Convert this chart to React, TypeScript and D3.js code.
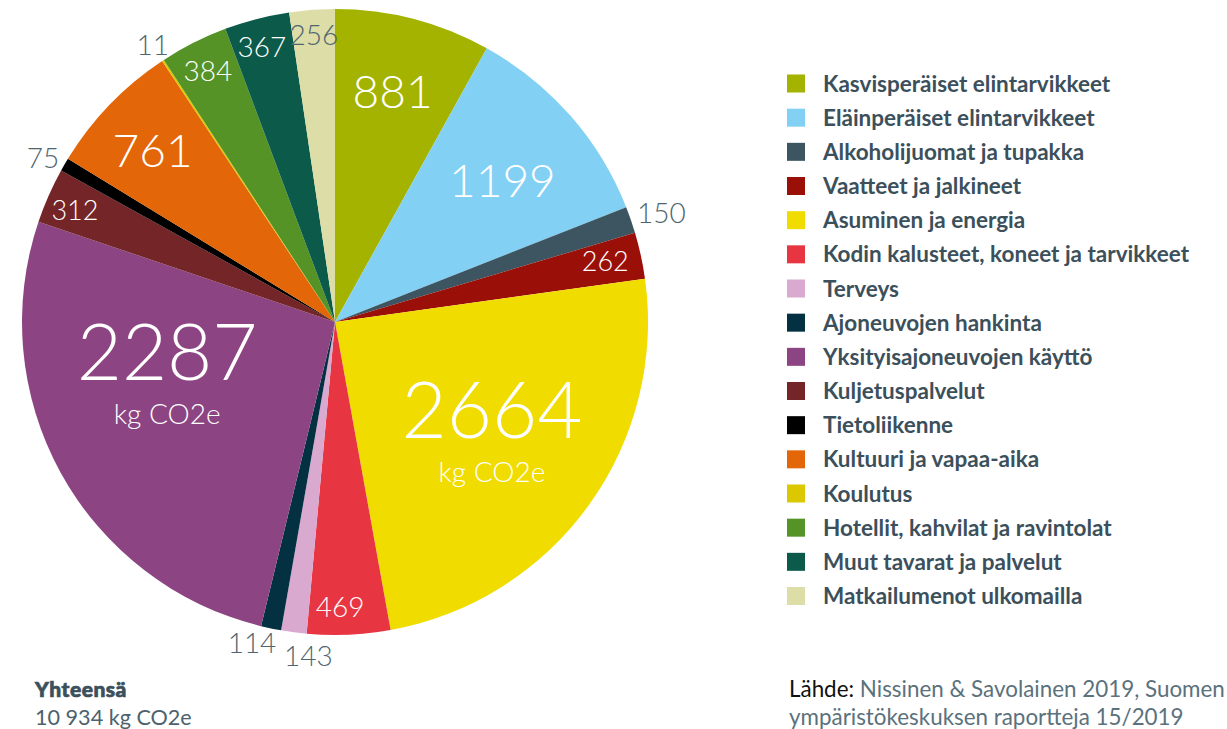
import React from 'react';
import * as d3 from 'd3';

// Data (arc sizes follow the drawn slices; the purple
// slice is drawn with ~2886 although it is printed as "2287").
const categories = [
  'Kasvisperäiset elintarvikkeet',
  'Eläinperäiset elintarvikkeet',
  'Alkoholijuomat ja tupakka',
  'Vaatteet ja jalkineet',
  'Asuminen ja energia',
  'Kodin kalusteet, koneet ja tarvikkeet',
  'Terveys',
  'Ajoneuvojen hankinta',
  'Yksityisajoneuvojen käyttö',
  'Kuljetuspalvelut',
  'Tietoliikenne',
  'Kultuuri ja vapaa-aika',
  'Koulutus',
  'Hotellit, kahvilat ja ravintolat',
  'Muut tavarat ja palvelut',
  'Matkailumenot ulkomailla',
];
const values = [881, 1199, 150, 262, 2664, 469, 143, 114, 2886, 312, 75, 761, 11, 384, 367, 256];
const printedLabels = ['881', '1199', '150', '262', '2664', '469', '143', '114', '2287', '312', '75', '761', '11', '384', '367', '256'];
const colors = [
  '#a3b300', '#82d0f4', '#3d5561', '#9b0f09', '#f1dc00', '#e73541', '#d9a9d0', '#033142',
  '#8c4582', '#732527', '#000000', '#e36608', '#dcc800', '#569326', '#0c5b4a', '#dddda8',
];
const unitText = 'kg CO2e';
const totalTitle = 'Yhteensä';
const totalText = '10 934 kg CO2e';

// label styling: radius ratio, angle shift (deg), font size, colour kind, show unit
const labelStyle = [
  { r: 0.76, da: -0.5, fs: 46, c: 'w' },
  { r: 0.70, da: 1.1, fs: 46, c: 'w' },
  { r: 1.10, da: 0.5, fs: 28, c: 'g' },
  { r: 0.885, da: -0.4, fs: 27, c: 'w' },
  { r: 0.575, da: -6.6, fs: 78, c: 'w', unit: true },
  { r: 0.91, da: 1.5, fs: 28, c: 'w' },
  { r: 1.07, da: -3, fs: 28, c: 'g' },
  { r: 1.06, da: 2.7, fs: 28, c: 'g' },
  { r: 0.545, da: 18.6, fs: 78, c: 'w', unit: true },
  { r: 0.905, da: -0.5, fs: 27, c: 'w' },
  { r: 1.07, da: -0.9, fs: 28, c: 'g' },
  { r: 0.80, da: -0.7, fs: 46, c: 'w' },
  { r: 1.06, da: 0, fs: 28, c: 'g' },
  { r: 0.90, da: 0, fs: 28, c: 'w' },
  { r: 0.91, da: -0.4, fs: 28, c: 'w' },
  { r: 0.92, da: 0, fs: 28, c: 'g' },
];

const W = 1227;
const H = 729;
const CX = 335;
const CY = 322;
const R = 313;
const TEXT = '#3c505b';
const GRAY = '#4f6570';
const FONT = 'Lato, "Open Sans", sans-serif';

export default function App() {
  const pie = d3.pie<number>().sort(null).value((d) => d)(values);
  const arc = d3.arc<d3.PieArcDatum<number>>().innerRadius(0).outerRadius(R);
  const legendY = d3.scaleLinear().domain([0, categories.length - 1]).range([83.5, 596]);

  return (
    <svg width={W} height={H} style={{ position: 'absolute', left: 0, top: 0, background: '#fff' }}>
      <g transform={`translate(${CX},${CY})`}>
        {pie.map((p, i) => (
          <path key={i} d={arc(p) || ''} fill={colors[i]} />
        ))}
        {pie.map((p, i) => {
          const s = labelStyle[i];
          const a = (p.startAngle + p.endAngle) / 2 + (s.da * Math.PI) / 180;
          const rr = R * s.r;
          const x = rr * Math.sin(a);
          const y = -rr * Math.cos(a);
          const fill = s.c === 'w' ? '#ffffff' : GRAY;
          return (
            <g key={'l' + i}>
              <text
                x={x}
                y={y}
                dy="0.36em"
                textAnchor="middle"
                fontFamily={FONT}
                fontWeight={300}
                fontSize={s.fs}
                fill={fill}
              >
                {printedLabels[i]}
              </text>
              {s.unit && (
                <text
                  x={x}
                  y={y + 62}
                  dy="0.36em"
                  textAnchor="middle"
                  fontFamily={FONT}
                  fontWeight={300}
                  fontSize={28}
                  fill={fill}
                >
                  {unitText}
                </text>
              )}
            </g>
          );
        })}
      </g>
      <g>
        {categories.map((c, i) => (
          <g key={c} transform={`translate(0,${legendY(i)})`}>
            <rect x={787} y={-9} width={18} height={18} fill={colors[i]} />
            <text x={823} y={0} dy="0.36em" fontFamily={FONT} fontWeight={700} fontSize={22.5} fill={TEXT}>
              {c}
            </text>
          </g>
        ))}
      </g>
      <text
        x={35}
        y={697}
        fontFamily={FONT}
        fontWeight={900}
        fontSize={21}
        fill={TEXT}
        stroke={TEXT}
        strokeWidth={0.7}
        letterSpacing={0.5}
      >
        {totalTitle}
      </text>
      <text x={35} y={725} fontFamily={FONT} fontWeight={400} fontSize={21.6} fill={'#4d626d'}>
        {totalText}
      </text>
      <text x={789} y={697} fontFamily={FONT} fontWeight={400} fontSize={22.4} fill={'#5b717c'}>
        <tspan fill="#111">Lähde:</tspan> Nissinen &amp; Savolainen 2019, Suomen
      </text>
      <text x={789} y={725} fontFamily={FONT} fontWeight={400} fontSize={22.4} fill={'#5b717c'}>
        ympäristökeskuksen raportteja 15/2019
      </text>
    </svg>
  );
}
